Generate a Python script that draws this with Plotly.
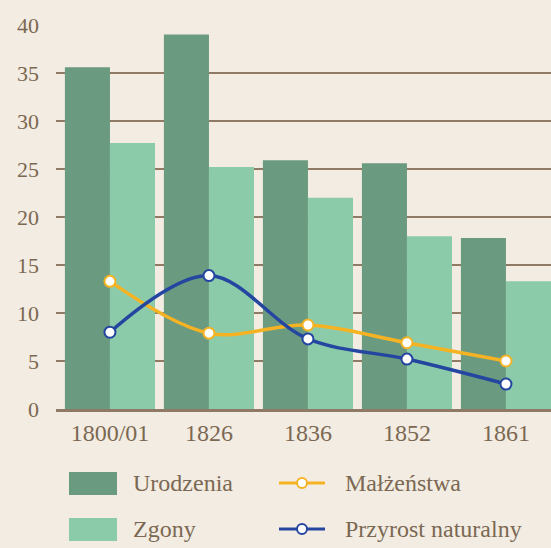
import plotly.graph_objects as go

# data
years = ["1800/01", "1826", "1836", "1852", "1861"]
urodzenia = [35.6, 39.0, 25.9, 25.6, 17.8]
zgony = [27.7, 25.2, 22.0, 18.0, 13.3]
malzenstwa = [13.3, 7.9, 8.75, 6.9, 5.0]
przyrost = [8.0, 13.9, 7.3, 5.2, 2.6]
y_ticks = [0, 5, 10, 15, 20, 25, 30, 35, 40]

BG = "#f2ece2"
TEXT = "#7b6852"
GRID = "#8f7b65"
DARK = "#6a9a80"
LIGHT = "#8ccbaa"
ORANGE = "#f5b324"
BLUE = "#2446a0"
FONT = "Liberation Serif"

W, H = 551, 548
PLOT_L, PLOT_R, PLOT_T, PLOT_B = 56, 551, 25, 409  # plot area in pixels


def px(x):
    return (x - PLOT_L) / (PLOT_R - PLOT_L)


def py(y):
    return (PLOT_B - y) / (PLOT_B - PLOT_T)


fig = go.Figure()
fig.add_trace(go.Bar(x=years, y=urodzenia, name="Urodzenia",
                     marker=dict(color=DARK, line=dict(width=0))))
fig.add_trace(go.Bar(x=years, y=zgony, name="Zgony",
                     marker=dict(color=LIGHT, line=dict(width=0))))
fig.add_trace(go.Scatter(x=years, y=malzenstwa, name="Małżeństwa",
                         mode="lines+markers",
                         line=dict(color=ORANGE, width=3.5, shape="spline", smoothing=1),
                         marker=dict(symbol="circle", size=11, color="white",
                                     line=dict(color=ORANGE, width=2))))
fig.add_trace(go.Scatter(x=years, y=przyrost, name="Przyrost naturalny",
                         mode="lines+markers",
                         line=dict(color=BLUE, width=3.5, shape="spline", smoothing=1),
                         marker=dict(symbol="circle", size=11, color="white",
                                     line=dict(color=BLUE, width=2))))

# hand-built legend (big swatches like the original)
shapes = []
annotations = []
legend_items = [
    ("rect", DARK, "Urodzenia", 69, 483),
    ("line", ORANGE, "Małżeństwa", 279, 483),
    ("rect", LIGHT, "Zgony", 69, 529),
    ("line", BLUE, "Przyrost naturalny", 279, 529),
]
for kind, color, label, x0, yc in legend_items:
    if kind == "rect":
        shapes.append(dict(type="rect", xref="paper", yref="paper",
                           x0=px(x0), x1=px(x0 + 48), y0=py(yc - 11), y1=py(yc + 12),
                           fillcolor=color, line=dict(width=0)))
        tx = x0 + 62
    else:
        shapes.append(dict(type="line", xref="paper", yref="paper",
                           x0=px(x0), x1=px(x0 + 46), y0=py(yc), y1=py(yc),
                           line=dict(color=color, width=3)))
        shapes.append(dict(type="circle", xref="paper", yref="paper",
                           x0=px(x0 + 18), x1=px(x0 + 28), y0=py(yc - 5), y1=py(yc + 5),
                           fillcolor="white", line=dict(color=color, width=2)))
        tx = x0 + 64
    annotations.append(dict(text=label, xref="paper", yref="paper",
                            x=px(tx), y=py(yc), xanchor="left", yanchor="middle",
                            showarrow=False, font=dict(family=FONT, size=24, color=TEXT)))

fig.update_layout(
    width=W, height=H,
    margin=dict(l=PLOT_L, r=W - PLOT_R, t=PLOT_T, b=H - PLOT_B),
    paper_bgcolor=BG, plot_bgcolor=BG,
    barmode="group", bargap=0.09, bargroupgap=0,
    showlegend=False,
    hovermode=False,
    font=dict(family=FONT, size=22, color=TEXT),
    shapes=shapes, annotations=annotations,
    xaxis=dict(range=[-0.545, 4.455], showgrid=False, showline=True,
               linecolor=GRID, linewidth=3, ticks="", tickfont=dict(size=24)),
    yaxis=dict(range=[0, 40], tickvals=y_ticks, showgrid=True, gridcolor=GRID,
               gridwidth=2, zeroline=False, showline=False, ticks="",
               ticklabelstandoff=16, tickfont=dict(size=22)),
)

# drop the default 8px page margin so the chart fills the window
fig.write_html("out.html",
               config={"displayModeBar": False},
               post_script=f"document.body.style.margin='0';"
                           f"document.body.style.background='{BG}';"
                           "document.body.style.overflow='hidden';")
